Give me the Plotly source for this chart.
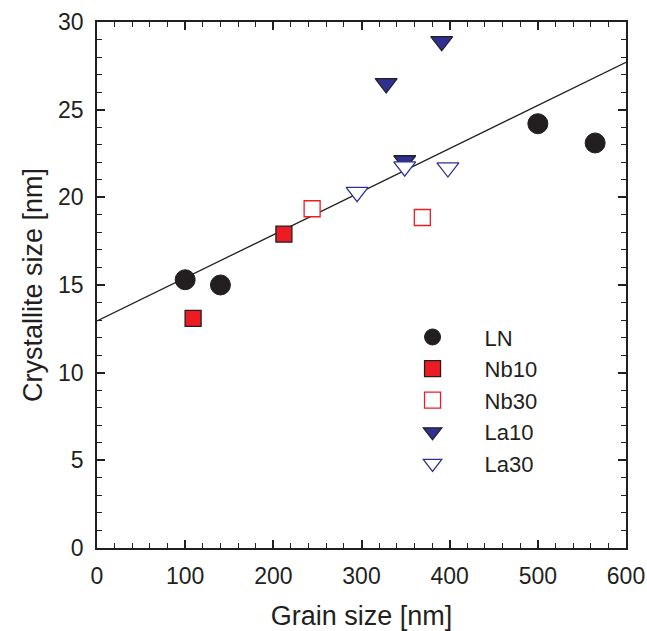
import plotly.graph_objects as go

# ---- data ----
ln_x = [100, 140, 500, 565]
ln_y = [15.3, 15.0, 24.2, 23.1]

nb10_x = [109, 212]
nb10_y = [13.1, 17.9]

nb30_x = [244, 369]
nb30_y = [19.35, 18.85]

la10_x = [328, 349, 391]
la10_y = [26.5, 22.1, 28.9]

la30_x = [295, 349, 398]
la30_y = [20.3, 21.75, 21.7]

fit_x = [0, 600]
fit_y = [12.95, 27.7]

x_ticks = [0, 100, 200, 300, 400, 500, 600]
y_ticks = [0, 5, 10, 15, 20, 25, 30]

INK = "#231f20"
RED = "#ed1c24"
NAVY = "#2e3192"
FONT = "Liberation Sans, Arial, sans-serif"

fig = go.Figure()

fig.add_trace(go.Scatter(x=fit_x, y=fit_y, mode="lines",
                         line=dict(color=INK, width=1.3), showlegend=False,
                         hoverinfo="skip"))

fig.add_trace(go.Scatter(x=ln_x, y=ln_y, mode="markers", name="LN",
                         marker=dict(symbol="circle", size=20, color=INK,
                                     line=dict(color=INK, width=1))))
fig.add_trace(go.Scatter(x=nb10_x, y=nb10_y, mode="markers", name="Nb10",
                         marker=dict(symbol="square", size=16, color=RED,
                                     line=dict(color=INK, width=1.3))))
fig.add_trace(go.Scatter(x=nb30_x, y=nb30_y, mode="markers", name="Nb30",
                         marker=dict(symbol="square", size=16, color="white",
                                     line=dict(color=RED, width=1.3))))
fig.add_trace(go.Scatter(x=la10_x, y=la10_y, mode="markers", name="La10",
                         marker=dict(symbol="triangle-down", size=19, color=NAVY,
                                     line=dict(color=INK, width=1.3))))
fig.add_trace(go.Scatter(x=la30_x, y=la30_y, mode="markers", name="La30",
                         marker=dict(symbol="triangle-down", size=19, color="white",
                                     line=dict(color=NAVY, width=1.3))))

axis_common = dict(
    showline=True, linecolor=INK, linewidth=1.6, mirror="ticks",
    ticks="inside", ticklen=8, tickwidth=1.5, tickcolor=INK,
    showgrid=False, zeroline=False, automargin=False,
    tickfont=dict(family=FONT, size=23, color=INK),
)

fig.update_xaxes(range=[0, 600], tickvals=x_ticks,
                 minor=dict(dtick=20, ticks="inside", ticklen=5, tickwidth=1.2,
                            tickcolor=INK, showgrid=False),
                 title=dict(text="Grain size [nm]",
                            font=dict(family=FONT, size=27, color=INK), standoff=29),
                 ticklabelstandoff=7,
                 **axis_common)
fig.update_yaxes(range=[0, 30], tickvals=y_ticks,
                 minor=dict(dtick=1, ticks="inside", ticklen=5, tickwidth=1.2,
                            tickcolor=INK, showgrid=False),
                 title=dict(text="Crystallite size [nm]",
                            font=dict(family=FONT, size=27, color=INK), standoff=8),
                 ticklabelstandoff=7,
                 **axis_common)

fig.update_layout(
    width=647, height=631,
    margin=dict(l=97, r=21, t=22, b=83),
    plot_bgcolor="white", paper_bgcolor="white",
    legend=dict(x=0.536, y=0.4407, xanchor="left", yanchor="top",
                font=dict(family=FONT, size=22, color=INK),
                bgcolor="rgba(0,0,0,0)", itemwidth=94),
)

fig.write_html("out.html", config={"displayModeBar": False},
               post_script="document.body.style.margin='0px';")
